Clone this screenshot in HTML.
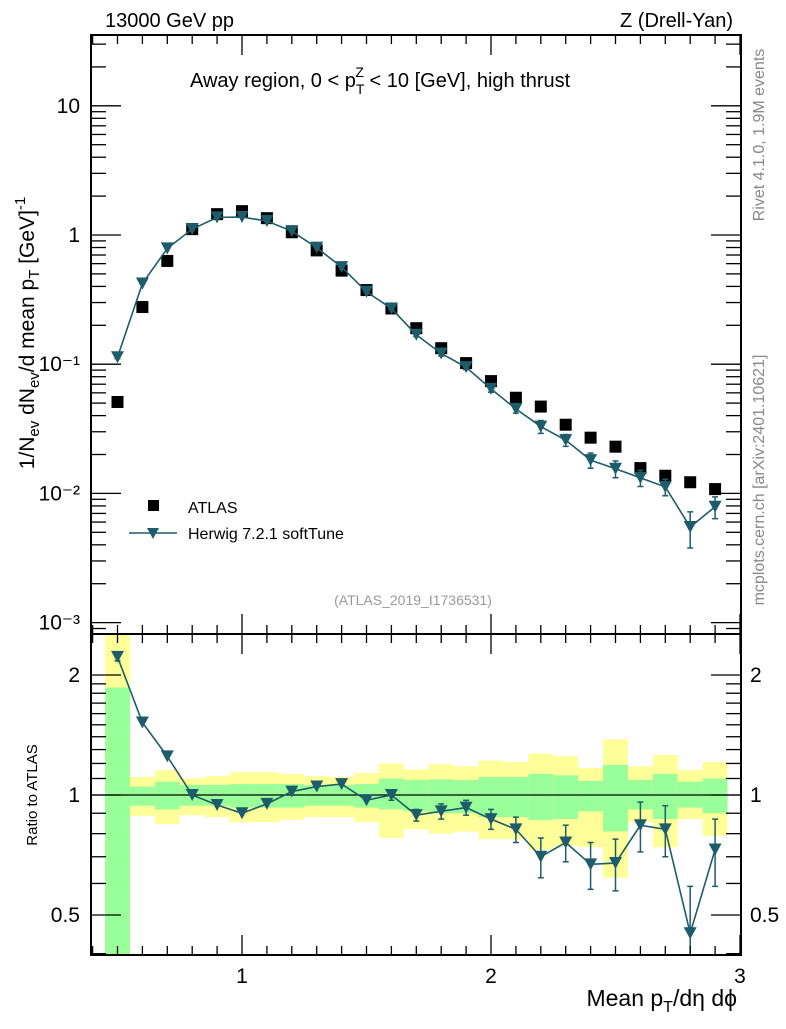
<!DOCTYPE html>
<html><head><meta charset="utf-8"><style>
body{margin:0;background:#fff;width:786px;height:1024px;overflow:hidden}
svg{font-family:"Liberation Sans",sans-serif}
</style></head><body>
<svg id="chart" width="786" height="1024" xmlns="http://www.w3.org/2000/svg">
<defs><clipPath id="rclip"><rect x="91" y="634" width="650" height="321"/></clipPath></defs>
<g id="bands"></g>
<g id="marks"></g>
<g id="rmarks" clip-path="url(#rclip)"></g>
<g id="axes"></g>
<text x="105" y="27" font-size="20">13000 GeV pp</text>
<text x="733" y="27" font-size="20" text-anchor="end">Z (Drell-Yan)</text>
<text x="190" y="87" font-size="20">Away region, 0 &lt; p<tspan font-size="14" dy="7">T</tspan><tspan font-size="14" dx="-9" dy="-17">Z</tspan><tspan dy="10"> &lt; 10 [GeV], high thrust</tspan></text>
<text transform="translate(34,333) rotate(-90)" font-size="21" text-anchor="middle">1/N<tspan font-size="15" dy="5">ev</tspan><tspan dy="-5"> dN</tspan><tspan font-size="15" dy="5">ev</tspan><tspan dy="-5">/d mean p</tspan><tspan font-size="15" dy="5">T</tspan><tspan dy="-5"> [GeV]</tspan><tspan font-size="15" dy="-9">-1</tspan></text>
<text transform="translate(37,795) rotate(-90)" font-size="15" text-anchor="middle">Ratio to ATLAS</text>
<text x="737" y="1006" font-size="23" text-anchor="end">Mean p<tspan font-size="16" dy="6">T</tspan><tspan dy="-6">/dη dϕ</tspan></text>
<text transform="translate(764,135) rotate(-90)" font-size="16" fill="#888" text-anchor="middle">Rivet 4.1.0,  1.9M events</text>
<text transform="translate(764,480) rotate(-90)" font-size="16" fill="#888" text-anchor="middle">mcplots.cern.ch [arXiv:2401.10621]</text>
<text x="413" y="605" font-size="14" fill="#999" text-anchor="middle">(ATLAS_2019_I1736531)</text>
<g>
<rect x="148" y="500" width="11" height="11" fill="#000"/>
<text x="188" y="513" font-size="16">ATLAS</text>
<line x1="129" y1="533" x2="177" y2="533" stroke="#1d5c6a" stroke-width="1.5"/>
<path d="M147,528 L159,528 L153,539 Z" fill="#1d5c6a"/>
<text x="188" y="539" font-size="16">Herwig 7.2.1 softTune</text>
</g>
</svg>
<script>
const xs=[0.5,0.6,0.7,0.8,0.9,1.0,1.1,1.2,1.3,1.4,1.5,1.6,1.7,1.8,1.9,2.0,2.1,2.2,2.3,2.4,2.5,2.6,2.7,2.8,2.9];
const atlas=[0.051,0.277,0.63,1.11,1.45,1.53,1.35,1.05,0.76,0.53,0.375,0.27,0.19,0.133,0.102,0.074,0.055,0.047,0.034,0.027,0.023,0.0157,0.0137,0.0122,0.0108];
const ratio=[2.22,1.52,1.25,1.0,0.944,0.90,0.95,1.02,1.05,1.065,0.97,1.0,0.89,0.91,0.93,0.87,0.82,0.70,0.76,0.67,0.675,0.84,0.82,0.45,0.73];
const ratioErr=[0.05,0.01,0.01,0.01,0.01,0.01,0.01,0.01,0.01,0.01,0.02,0.03,0.03,0.04,0.04,0.05,0.06,0.08,0.08,0.09,0.10,0.12,0.12,0.14,0.14];
const yelHi=[2.6,1.11,1.155,1.10,1.115,1.14,1.14,1.13,1.115,1.11,1.135,1.2,1.16,1.195,1.18,1.22,1.21,1.27,1.25,1.17,1.38,1.18,1.26,1.155,1.21];
const yelLo=[0.3,0.886,0.845,0.89,0.88,0.855,0.855,0.866,0.88,0.88,0.855,0.78,0.82,0.80,0.81,0.775,0.775,0.73,0.745,0.74,0.62,0.855,0.74,0.87,0.79];
const grnHi=[1.86,1.05,1.08,1.06,1.06,1.065,1.065,1.065,1.06,1.06,1.065,1.1,1.09,1.095,1.09,1.11,1.11,1.13,1.12,1.085,1.19,1.09,1.13,1.08,1.10];
const grnLo=[0.3,0.94,0.92,0.94,0.94,0.93,0.93,0.93,0.94,0.94,0.93,0.92,0.91,0.90,0.90,0.88,0.88,0.865,0.87,0.91,0.81,0.92,0.87,0.93,0.90];
const mainTicks=[0.001,0.01,0.1,1,10];
const mainTickLabels=["10\u207B\u00B3","10\u207B\u00B2","10\u207B\u00B9","1","10"];
const ratioTicks=[0.5,1,2];
const xTicks=[1,2,3];

const L=91,R=741,T=35,MB=634,RB=955;
const X=v=>242+(v-1)*249;
const Y=v=>235-129.2*Math.log10(v);
const RY=v=>795-398.7*Math.log10(v);
const NS="http://www.w3.org/2000/svg";
function mk(parent,tag,attrs){const e=document.createElementNS(NS,tag);for(const k in attrs)e.setAttribute(k,attrs[k]);parent.appendChild(e);return e;}
const bands=document.getElementById('bands'),marks=document.getElementById('marks'),rmarks=document.getElementById('rmarks'),axes=document.getElementById('axes');
const clampR=v=>Math.min(Math.max(RY(v),MB),RB);
const TEAL="#1d5c6a";
xs.forEach((x,i)=>{
 const x0=Math.max(X(x-0.05),L),x1=X(x+0.05);
 const y=mk(bands,'rect',{x:x0,y:clampR(yelHi[i]),width:x1-x0,height:clampR(yelLo[i])-clampR(yelHi[i]),fill:'#ffff99'});
 
 
 const g=mk(bands,'rect',{x:x0,y:clampR(grnHi[i]),width:x1-x0,height:clampR(grnLo[i])-clampR(grnHi[i]),fill:'#99ff99'});
 
 
});
mk(rmarks,'line',{x1:L,x2:R,y1:RY(1),y2:RY(1),stroke:'#000','stroke-width':1.2});
xs.forEach((x,i)=>{
 const r=mk(marks,'rect',{x:X(x)-6,y:Y(atlas[i])-6,width:12,height:12,fill:'#000'});
 
 
});
const mc=xs.map((x,i)=>atlas[i]*ratio[i]);
const lm=mk(marks,'polyline',{points:xs.map((x,i)=>X(x)+','+Y(mc[i])).join(' '),fill:'none',stroke:TEAL,'stroke-width':1.6});


const lr=mk(rmarks,'polyline',{points:xs.map((x,i)=>X(x)+','+RY(ratio[i])).join(' '),fill:'none',stroke:TEAL,'stroke-width':1.6});


function tri(par,cx,cy,name){const p=mk(par,'path',{d:`M${cx-6.5},${cy-6} L${cx+6.5},${cy-6} L${cx},${cy+6} Z`,fill:TEAL});
 
 }
function err(par,cx,y1,y2){mk(par,'line',{x1:cx,x2:cx,y1:y1,y2:y2,stroke:TEAL,'stroke-width':1.5});
 mk(par,'line',{x1:cx-3,x2:cx+3,y1:y1,y2:y1,stroke:TEAL,'stroke-width':1.5});
 mk(par,'line',{x1:cx-3,x2:cx+3,y1:y2,y2:y2,stroke:TEAL,'stroke-width':1.5});}
xs.forEach((x,i)=>{
 const e=ratioErr[i];
 if(e>0.02){err(marks,X(x),Y(mc[i]*(1+e/ratio[i])),Y(mc[i]*(1-e/ratio[i])));}
 if(e>0.02||i==0){err(rmarks,X(x),RY(ratio[i]+e),RY(ratio[i]-e));}
 tri(marks,X(x),Y(mc[i]),'herwig-point');
 tri(rmarks,X(x),RY(ratio[i]),'herwig-ratio-point');
});
mk(axes,'rect',{x:L,y:T,width:R-L,height:MB-T,fill:'none',stroke:'#000','stroke-width':2});
mk(axes,'rect',{x:L,y:MB,width:R-L,height:RB-MB,fill:'none',stroke:'#000','stroke-width':2});
for(let k=4;k<=30;k++){const v=k/10,px=X(v);if(px<L||px>R)continue;const maj=(k%10==0);const len=maj?20:9;
 [[T,1],[MB,-1],[MB,1],[RB,-1]].forEach(([yb,d])=>mk(axes,'line',{x1:px,x2:px,y1:yb,y2:yb+d*len,stroke:'#000','stroke-width':1.3}));}
xTicks.forEach(v=>{const t=mk(axes,'text',{x:X(v),y:983,'font-size':21,'text-anchor':'middle'});t.textContent=v;
 
 });
for(let d=-4;d<=1;d++){for(let m=1;m<=9;m++){const v=m*Math.pow(10,d),py=Y(v);if(py<T||py>MB)continue;const len=m==1?30:15;
 mk(axes,'line',{x1:L,x2:L+len,y1:py,y2:py,stroke:'#000','stroke-width':1.3});
 mk(axes,'line',{x1:R,x2:R-len,y1:py,y2:py,stroke:'#000','stroke-width':1.3});}}
mainTicks.forEach((v,i)=>{const t=mk(axes,'text',{x:80,y:Y(v)+7,'font-size':21,'text-anchor':'end'});t.textContent=mainTickLabels[i];
 
 });
[0.4,0.5,0.6,0.7,0.8,0.9,1,2].forEach(v=>{const py=RY(v);const maj=ratioTicks.includes(v);const len=maj?30:15;
 mk(axes,'line',{x1:L,x2:L+len,y1:py,y2:py,stroke:'#000','stroke-width':1.3});
 mk(axes,'line',{x1:R,x2:R-len,y1:py,y2:py,stroke:'#000','stroke-width':1.3});});
for(let v=1.1;v<2;v+=0.1){const py=RY(v);mk(axes,'line',{x1:L,x2:L+15,y1:py,y2:py,stroke:'#000','stroke-width':1.3});mk(axes,'line',{x1:R,x2:R-15,y1:py,y2:py,stroke:'#000','stroke-width':1.3});}
ratioTicks.forEach(v=>{const t=mk(axes,'text',{x:80,y:RY(v)+7,'font-size':21,'text-anchor':'end'});t.textContent=v;
 
 
 const t2=mk(axes,'text',{x:750,y:RY(v)+7,'font-size':21});t2.textContent=v;
 
 });
</script>
</body></html>
